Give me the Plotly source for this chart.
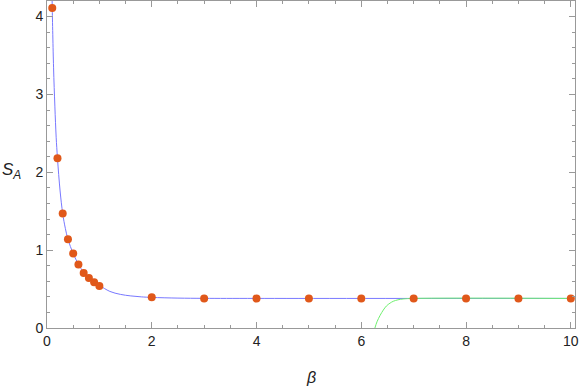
import plotly.graph_objects as go

# sampled points
beta_pts = [0.1, 0.2, 0.3, 0.4, 0.5, 0.6, 0.7, 0.8, 0.9, 1.0, 2, 3, 4, 5, 6, 7, 8, 9, 10]
sa_pts = [4.11, 2.18, 1.47, 1.14, 0.957, 0.815, 0.707, 0.643, 0.588, 0.54,
          0.395, 0.378, 0.378, 0.378, 0.378, 0.378, 0.378, 0.378, 0.378]

# blue curve
blue_beta = [0.098, 0.1, 0.125, 0.15, 0.175, 0.2, 0.25, 0.3, 0.35, 0.4, 0.5, 0.6,
             0.7, 0.8, 0.9, 1.0, 1.2, 1.4, 1.6, 1.8, 2.0, 2.5, 3, 4, 10]
blue_sa = [4.2, 4.11, 3.35, 2.85, 2.45, 2.18, 1.76, 1.47, 1.28, 1.14, 0.955, 0.82,
           0.715, 0.645, 0.59, 0.548, 0.47, 0.432, 0.412, 0.4, 0.393, 0.384, 0.381, 0.38, 0.38]

# green curve
green_beta = [6.26, 6.3, 6.36, 6.42, 6.48, 6.55, 6.61, 6.7, 6.8, 7.0, 10]
green_sa = [0.0, 0.08, 0.163, 0.23, 0.283, 0.32, 0.343, 0.362, 0.373, 0.38, 0.38]

fig = go.Figure()

fig.add_trace(go.Scatter(x=blue_beta, y=blue_sa, mode='lines',
                         line=dict(color='rgb(120,120,255)', width=1, shape='spline'),
                         showlegend=False))
fig.add_trace(go.Scatter(x=green_beta, y=green_sa, mode='lines',
                         line=dict(color='rgb(110,240,110)', width=1, shape='spline'),
                         showlegend=False))
fig.add_trace(go.Scatter(x=beta_pts, y=sa_pts, mode='markers',
                         marker=dict(color='#e0581a', size=8),
                         cliponaxis=False, showlegend=False))

axis_style = dict(
    showline=True, linecolor='#999999', linewidth=1, mirror='ticks',
    ticks='inside', ticklen=6, tickcolor='#999999',
    showgrid=False, zeroline=False, automargin=False,
    tickfont=dict(family='Liberation Sans, Arial', size=14, color='#222222'),
)

fig.update_xaxes(range=[0, 10.08], tick0=0, dtick=2,
                 minor=dict(dtick=0.5, ticks='inside', ticklen=3, tickcolor='#999999'),
                 **axis_style)
fig.update_yaxes(range=[0, 4.2], tick0=0, dtick=1,
                 minor=dict(dtick=0.2, ticks='inside', ticklen=3, tickcolor='#999999'),
                 **axis_style)

# axis labels, placed like the reference (horizontal y label)
fig.add_annotation(text='<i>β</i>', xref='paper', yref='paper',
                   x=0.5, y=0, xanchor='center', yanchor='middle', yshift=-49,
                   showarrow=False, font=dict(family='Liberation Sans, Arial', size=16, color='#222222'))
fig.add_annotation(text='<i>S</i><sub><i>A</i></sub>', xref='paper', yref='y',
                   x=0, y=2.02, xanchor='left', yanchor='middle', xshift=-47,
                   showarrow=False, font=dict(family='Liberation Sans, Arial', size=17, color='#222222'))

fig.update_layout(
    width=581, height=386,
    margin=dict(l=47, r=6, t=1, b=58),
    plot_bgcolor='white', paper_bgcolor='white',
)

# drop the browser's default body margin so the figure sits at the page corner
fig.write_html("out.html", config={'displayModeBar': False},
               post_script="document.body.style.margin='0';")
